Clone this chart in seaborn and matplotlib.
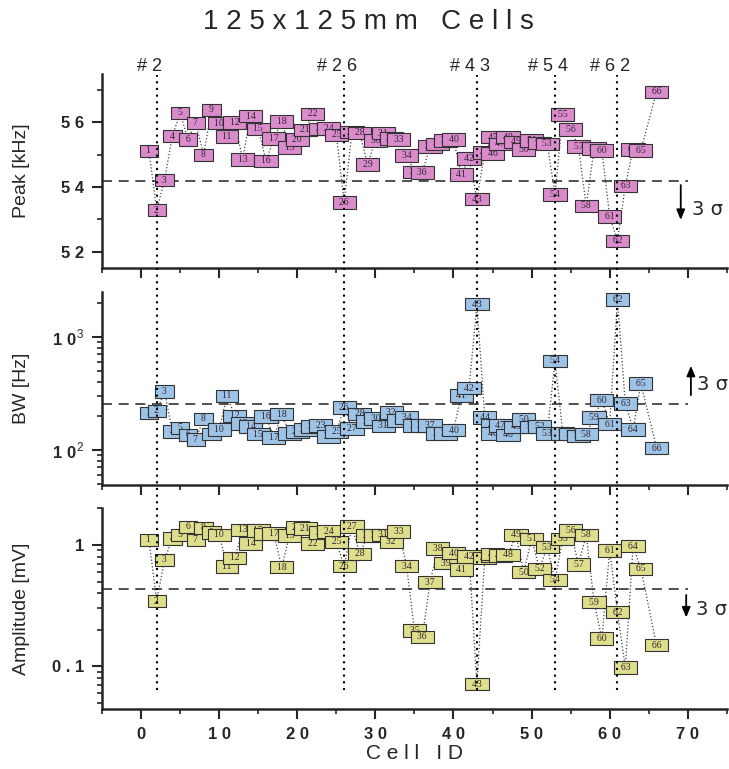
import numpy as np
import pandas as pd
import matplotlib
matplotlib.use("Agg")
import matplotlib.pyplot as plt
import matplotlib.transforms as mtransforms
from matplotlib.lines import Line2D
from matplotlib.ticker import MultipleLocator, LogLocator, NullFormatter
import seaborn as sns

# Setup
sns.set_style("ticks")
plt.rcParams['font.family'] = ['Liberation Sans', 'DejaVu Sans']
plt.rcParams['mathtext.fontset'] = 'custom'
plt.rcParams['mathtext.rm'] = 'Liberation Sans'
plt.rcParams['mathtext.bf'] = 'Liberation Sans:bold'

# Data
cell_ids = np.arange(1, 67)
# cells 46-65 sit one unit left of their number on the original x axis
cell_pos = cell_ids.astype(float)
cell_pos[45:65] -= 1

peak_khz = [55.12, 53.29, 54.22, 55.58, 56.30, 55.47, 55.99, 55.00, 56.39, 55.98,
            55.57, 56.00, 54.86, 56.20, 55.80, 54.81, 55.50, 56.03, 55.22, 55.48,
            55.77, 56.27, 55.80, 55.82, 55.62, 53.53, 55.70, 55.68, 54.70, 55.45,
            55.67, 55.50, 55.48, 54.98, 54.47, 54.45, 55.26, 55.34, 55.45, 55.48,
            54.39, 54.88, 53.63, 55.07, 55.55, 55.04, 55.34, 55.55, 55.40, 55.17,
            55.45, 55.36, 55.34, 53.78, 56.24, 55.78, 55.26, 53.42, 55.19, 55.14,
            53.09, 52.34, 54.04, 55.16, 55.14, 56.95]

bw_hz = [213, 221, 327, 145, 157, 136, 124, 188, 138, 152,
         300, 200, 172, 161, 138, 197, 129, 207, 140, 145,
         152, 161, 164, 131, 145, 238, 155, 208, 178, 190,
         163, 215, 182, 193, 164, 164, 164, 140, 140, 150,
         302, 351, 1945, 193, 164, 140, 165, 136, 160, 186,
         160, 161, 140, 611, 140, 138, 133, 138, 194, 276,
         169, 2140, 258, 152, 388, 104]

amp_mv = [1.10, 0.345, 0.753, 1.13, 1.21, 1.41, 1.10, 1.38, 1.27, 1.21,
          0.664, 0.782, 1.33, 1.03, 1.31, 1.23, 1.24, 0.655, 1.19, 1.39,
          1.37, 1.03, 1.27, 1.29, 1.06, 0.668, 1.42, 0.844, 1.19, 1.19,
          1.21, 1.06, 1.29, 0.668, 0.198, 0.175, 0.494, 0.938, 0.707, 0.854,
          0.628, 0.80, 0.0716, 0.777, 0.82, 0.84, 0.82, 0.828, 1.21, 0.597,
          1.12, 0.636, 0.957, 0.516, 1.12, 1.31, 0.69, 1.21, 0.339, 0.17,
          0.898, 0.28, 0.098, 0.975, 0.636, 0.15]

outlier_cells = [2, 26, 43, 54, 62]
peak_limit = 54.2
bw_limit = 255
amp_limit = 0.436

df = pd.DataFrame({'cell': cell_ids, 'x': cell_pos,
                   'peak': peak_khz, 'bw': bw_hz, 'amp': amp_mv})

# Figure
fig = plt.figure(figsize=(7.29, 7.69), dpi=100)
ax_peak = fig.add_axes([0.14, 0.6515, 0.857, 0.2523])
ax_bw = fig.add_axes([0.14, 0.3693, 0.857, 0.2514])
ax_amp = fig.add_axes([0.14, 0.0785, 0.857, 0.2605])
ax_bw.set_yscale('log')
ax_amp.set_yscale('log')

panels = [
    (ax_peak, 'peak', '#d98bcb', peak_limit, 'Peak [kHz]'),
    (ax_bw, 'bw', '#9dc3e6', bw_limit, 'BW [Hz]'),
    (ax_amp, 'amp', '#dede8c', amp_limit, 'Amplitude [mV]'),
]

for ax, col, face, limit, ylabel in panels:
    sns.lineplot(data=df, x='x', y=col, ax=ax, sort=False, estimator=None,
                 color='#444444', linestyle=':', lw=0.9, zorder=1)
    for xv, yv, c in zip(df['x'], df[col], df['cell']):
        ax.text(xv, yv, f"  {c}  ", ha='center', va='center', fontsize=7,
                family='Liberation Serif', color='#33262f', zorder=3,
                bbox=dict(boxstyle='square,pad=0.18', fc=face, ec='#333333', lw=0.8))
    ax.hlines(limit, -5, 70, colors='#333333', linestyles=(0, (6, 4)), lw=1.2, zorder=2)

    ax.set_xlim(-5, 75)
    ax.set_xticks(range(0, 80, 10))
    ax.xaxis.set_minor_locator(MultipleLocator(5))
    ax.set_xlabel('')
    ax.set_ylabel(ylabel, fontsize=14)
    ax.yaxis.set_label_coords(-0.115, 0.5)
    ax.tick_params(which='major', direction='out', length=7, width=1.5, pad=6)
    ax.tick_params(which='minor', direction='out', length=3.5, width=1.2)
    sns.despine(ax=ax)
    ax.spines['left'].set_linewidth(1.8)
    ax.spines['bottom'].set_linewidth(1.8)
    ax.grid(False)

# Peak panel
ax_peak.set_ylim(51.5, 57.5)
ax_peak.set_yticks([52, 54, 56], ['5 2', '5 4', '5 6'], fontweight='bold', fontsize=12)
ax_peak.yaxis.set_minor_locator(MultipleLocator(1))
ax_peak.tick_params(labelbottom=False)

# BW panel
ax_bw.set_ylim(49, 2500)
ax_bw.set_yticks([100, 1000], [r'$\mathbf{1\ 0}^{2}$', r'$\mathbf{1\ 0}^{3}$'], fontsize=12)
ax_bw.yaxis.set_minor_locator(LogLocator(base=10, subs=np.arange(2, 10)))
ax_bw.yaxis.set_minor_formatter(NullFormatter())
ax_bw.tick_params(labelbottom=False)

# Amplitude panel
ax_amp.set_ylim(0.045, 2)
ax_amp.set_yticks([0.1, 1], ['0 . 1', '1'], fontweight='bold', fontsize=12)
ax_amp.yaxis.set_minor_locator(LogLocator(base=10, subs=np.arange(2, 10)))
ax_amp.yaxis.set_minor_formatter(NullFormatter())
ax_amp.set_xticks(range(0, 80, 10), ['0', '1 0', '2 0', '3 0', '4 0', '5 0', '6 0', '7 0'],
                  fontweight='bold', fontsize=12)
ax_amp.set_xlabel('C e l l   I D', fontsize=15, labelpad=2)

# 3 sigma arrows
arrow = dict(arrowstyle='-|>,head_width=0.25,head_length=0.6', lw=1.3, color='black')
ax_peak.annotate('', xy=(69.1, 52.9), xytext=(69.1, 54.15), arrowprops=arrow)
ax_peak.text(70.6, 53.3, '3 σ', fontsize=14, va='center', family=['DejaVu Sans'])
ax_bw.annotate('', xy=(70.4, 586), xytext=(70.4, 288), arrowprops=arrow)
ax_bw.text(71.2, 375, '3 σ', fontsize=14, va='center', family=['DejaVu Sans'])
ax_amp.annotate('', xy=(69.8, 0.24), xytext=(69.8, 0.408), arrowprops=arrow)
ax_amp.text(71.0, 0.295, '3 σ', fontsize=14, va='center', family=['DejaVu Sans'])

# Outlier markers across all panels
trans = mtransforms.blended_transform_factory(ax_amp.transData, fig.transFigure)
for c in outlier_cells:
    xp = cell_pos[c - 1]
    fig.add_artist(Line2D([xp, xp], [0.103, 0.902], transform=trans, color='black',
                          lw=1.5, linestyle=(0, (1, 2.2)), zorder=5))
    fig.text(xp - 0.9, 0.913, '# ' + ' '.join(str(c)), transform=trans,
             ha='center', va='center', fontsize=13)

fig.text(0.505, 0.971, '1 2 5 x 1 2 5 m m   C e l l s', ha='center', va='center', fontsize=20)

fig.savefig('out.png', dpi=100)
